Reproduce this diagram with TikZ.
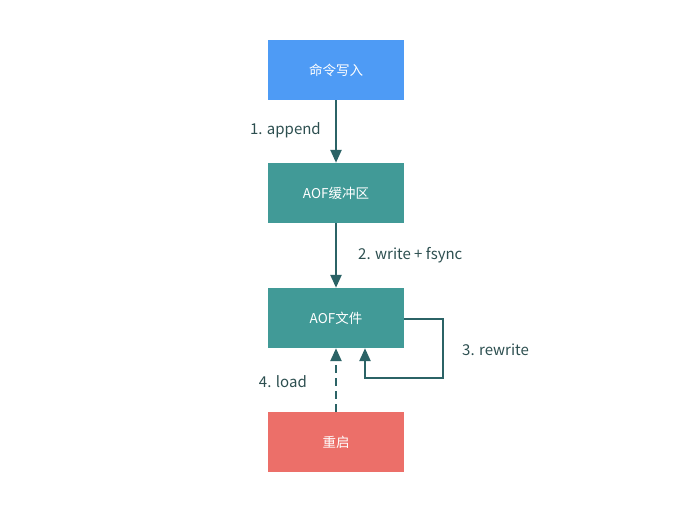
\documentclass[tikz,border=0pt]{standalone}
\usepackage{fontspec}
\setmainfont{Noto Sans CJK SC}
\usetikzlibrary{arrows.meta}
\definecolor{cmdblue}{HTML}{4E9BF5}
\definecolor{aofteal}{HTML}{419A97}
\definecolor{restartred}{HTML}{EC6F69}
\definecolor{flowline}{HTML}{2B6366}
\definecolor{labeltext}{HTML}{2D4F50}
\tikzset{
  box/.style={minimum width=136pt, minimum height=60pt, inner sep=0pt,
    text=white, font=\fontsize{13.5pt}{15pt}\selectfont},
  flow/.style={draw=flowline, line width=2.4pt,
    -{Triangle[width=11pt,length=13pt]}},
  steplabel/.style={text=labeltext, font=\fontsize{15pt}{17pt}\selectfont, inner sep=0pt}
}
\begin{document}
\begin{tikzpicture}[x=1pt,y=1pt]
\useasboundingbox (0,0) rectangle (684,510);

%% boxes
\node[box, fill=cmdblue] (cmd) at (336,440) {命令写入};
\node[box, fill=aofteal] (buf) at (336,317) {AOF缓冲区};
\node[box, fill=aofteal] (file) at (336,192) {AOF文件};
\node[box, fill=restartred] (restart) at (336,68) {重启};

%% arrows
\draw[flow] (cmd) -- (buf);
\draw[flow] (buf) -- (file);
\coordinate (loopa) at (443,191);
\coordinate (loopb) at (443,132);
\coordinate (loopc) at (365,132);
\draw[flow] (file.east |- loopa) -- (loopa) -- (loopb) -- (loopc) -- (loopc |- file.south);
\draw[flow, dash pattern=on 8pt off 5pt] (restart) -- (file);

%% labels
\node[steplabel, anchor=east] (lappend) at (321,380) {1. append};
\node[steplabel, anchor=west] (lwrite) at (358,255) {2. write + fsync};
\node[steplabel, anchor=west] (lrewrite) at (462,160) {3. rewrite};
\node[steplabel, anchor=east] (lload) at (307,128) {4. load};

\end{tikzpicture}
\end{document}
